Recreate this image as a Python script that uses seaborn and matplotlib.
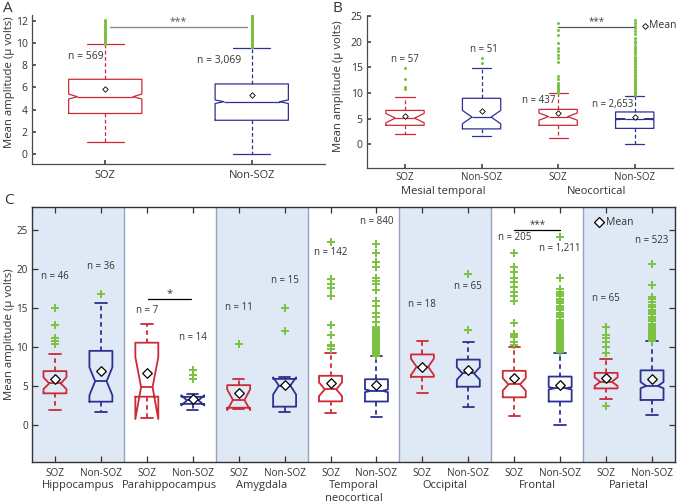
import numpy as np
import matplotlib
matplotlib.use("Agg")
import matplotlib.pyplot as plt
import seaborn as sns

# ---------------- Data ----------------
# Panel A
a_labels = ["SOZ", "Non-SOZ"]
a_n = ["n = 569", "n = 3,069"]
a_q1 = [3.65, 3.04]
a_med = [5.16, 4.71]
a_q3 = [6.73, 6.31]
a_lo = [1.10, 0.00]
a_hi = [9.88, 9.58]
a_mean = [5.83, 5.35]
a_cilo = [4.95, 4.55]
a_cihi = [5.40, 4.87]
a_fl_soz = [9.95, 10.02, 10.1, 10.19, 10.26, 10.33, 10.42, 10.5, 10.57, 10.66, 10.74, 10.81,
            10.9, 10.99, 11.06, 11.15, 11.24, 11.36, 11.45, 11.54, 11.66, 11.75, 11.86, 11.95, 12.06]
a_fl_non = [9.62, 9.68, 9.77, 9.84, 9.91, 10.0, 10.07, 10.16, 10.25, 10.31, 10.4, 10.47, 10.56,
            10.63, 10.72, 10.81, 10.88, 10.95, 11.04, 11.13, 11.2, 11.27, 11.36, 11.45, 11.52,
            11.6, 11.69, 11.76, 11.83, 11.92, 12.0, 12.09, 12.16, 12.23, 12.32, 12.4, 12.48]

# Panel B
b_labels = ["SOZ", "Non-SOZ", "SOZ", "Non-SOZ"]
b_groups = ["Mesial temporal", "Neocortical"]
b_n = ["n = 57", "n = 51", "n = 437", "n = 2,653"]
b_q1 = [3.7, 3.0, 3.7, 3.1]
b_med = [5.1, 5.3, 5.4, 4.9]
b_q3 = [6.6, 8.96, 6.8, 6.3]
b_lo = [1.95, 1.6, 1.2, 0.0]
b_hi = [9.15, 14.9, 9.9, 9.5]
b_mean = [5.6, 6.4, 6.0, 5.3]
b_cilo = [4.2, 4.0, 4.7, 4.8]
b_cihi = [6.0, 6.6, 6.1, 5.0]
b_fl1 = [10.7, 11.1, 12.7, 14.9]
b_fl2 = [15.8, 16.8]
b_fl3 = [10.0, 10.2, 10.4, 10.6, 10.8, 11.0, 11.2, 11.4, 11.6, 11.9, 12.7, 13.3, 16.1, 16.8,
         17.4, 18.1, 18.7, 19.7, 21.3, 22.3, 23.6]
b_fl4 = [9.6, 9.75, 9.9, 10.05, 10.2, 10.35, 10.5, 10.7, 10.9, 11.1, 11.3, 11.5, 11.7, 11.9,
         12.1, 12.3, 12.55, 12.8, 13.05, 13.3, 13.55, 13.8, 14.1, 14.4, 14.7, 15.0, 15.3, 15.6,
         15.9, 16.2, 16.5, 16.8, 17.1, 17.5, 17.9, 18.3, 18.7, 19.2, 19.7, 20.2, 20.8, 21.4,
         22.0, 22.6, 23.1, 23.6, 24.2]

# Panel C
c_groups = ["Hippocampus", "Parahippocampus", "Amygdala", "Temporal\nneocortical",
            "Occipital", "Frontal", "Parietal"]
c_labels = ["SOZ", "Non-SOZ"] * 7
c_n = ["n = 46", "n = 36", "n = 7", "n = 14", "n = 11", "n = 15", "n = 142", "n = 840",
       "n = 18", "n = 65", "n = 205", "n = 1,211", "n = 65", "n = 523"]
c_n_y = [19.1, 20.3, 14.7, 11.2, 15.1, 18.5, 22.1, 26.05, 15.45, 17.8, 24.1, 22.7, 16.2, 23.7]
c_q1 = [4.05, 2.98, 3.62, 2.70, 2.20, 2.34, 3.02, 3.00, 6.17, 4.90, 3.54, 3.00, 4.68, 3.20]
c_med = [5.32, 5.60, 4.85, 3.15, 3.20, 5.05, 4.56, 4.37, 7.45, 6.60, 5.20, 4.70, 5.53, 5.00]
c_q3 = [6.90, 9.50, 10.55, 3.60, 5.10, 5.90, 6.30, 5.86, 9.04, 8.38, 6.94, 6.20, 6.68, 7.00]
c_lo = [1.91, 1.60, 0.90, 1.85, 2.00, 1.70, 1.51, 1.07, 4.10, 2.26, 1.14, 0.00, 3.27, 1.30]
c_hi = [9.15, 15.6, 13.0, 3.92, 5.84, 6.20, 9.24, 8.80, 10.73, 10.60, 10.0, 9.24, 8.43, 10.8]
c_mean = [5.92, 6.90, 6.68, 3.30, 4.10, 5.16, 5.44, 5.10, 7.45, 7.00, 5.96, 5.10, 6.04, 5.88]
c_cilo = [4.60, 3.80, 0.75, 2.50, 1.90, 3.90, 3.70, 4.20, 6.40, 5.80, 4.40, 4.55, 5.00, 4.70]
c_cihi = [6.10, 7.40, 8.70, 3.80, 4.55, 6.10, 5.45, 4.55, 8.50, 7.40, 6.00, 4.85, 6.10, 5.50]
c_fl = [
    [10.4, 10.8, 11.2, 12.85, 15.0],
    [16.8],
    [],
    [5.9, 6.4, 7.0],
    [10.4],
    [12.0, 15.0],
    [9.8, 10.1, 10.3, 11.6, 12.8, 16.5, 17.6, 18.1, 18.7, 23.5],
    [8.9, 9.05, 9.2, 9.35, 9.5, 9.65, 9.8, 9.95, 10.1, 10.25, 10.4, 10.55, 10.7, 10.85, 11.0,
     11.2, 11.4, 11.6, 11.8, 12.0, 12.3, 12.6, 13.2, 13.8, 14.3, 15.2, 15.9, 17.3, 18.1, 18.5,
     18.8, 20.2, 20.9, 22.0, 23.2],
    [],
    [12.2, 19.3],
    [10.2, 10.6, 11.3, 11.5, 11.7, 13.1, 15.9, 16.5, 17.1, 17.7, 18.3, 18.9, 19.6, 20.3, 22.1],
    [9.35, 9.5, 9.65, 9.8, 9.95, 10.1, 10.25, 10.4, 10.55, 10.7, 10.85, 11.0, 11.2, 11.4, 11.6,
     11.8, 12.0, 12.2, 12.45, 12.7, 12.95, 13.2, 13.5, 13.8, 14.1, 14.4, 14.7, 15.0, 15.3, 15.6,
     15.9, 16.2, 16.5, 16.8, 17.1, 17.4, 18.8, 24.1],
    [2.4, 9.2, 10.0, 10.6, 11.1, 11.5, 12.5],
    [10.8, 10.95, 11.1, 11.25, 11.4, 11.55, 11.7, 11.85, 12.0, 12.2, 12.4, 12.6, 12.8, 13.0,
     13.3, 13.6, 13.9, 14.2, 14.5, 14.8, 15.1, 15.4, 15.8, 16.1, 16.4, 17.9, 20.6],
]

# ---------------- Style ----------------
sns.set_theme(style="ticks")
plt.rcParams['font.family'] = ['Open Sans', 'DejaVu Sans']
plt.rcParams.update({
    'xtick.direction': 'in', 'ytick.direction': 'in',
    'axes.edgecolor': '#4a4a4a', 'xtick.color': '#4a4a4a', 'ytick.color': '#4a4a4a',
    'xtick.labelcolor': '#333333', 'ytick.labelcolor': '#333333',
    'text.color': '#333333', 'axes.labelcolor': '#333333', 'axes.linewidth': 0.9,
})

RED = '#cc2a36'
BLUE = '#2e3192'
GREEN = '#7cc142'
SHADE = '#dfe8f5'
DIVIDER = '#93a3c0'

fig = plt.figure(figsize=(6.8, 5.03), dpi=100)
axA = fig.add_axes([32 / 680, 1 - 164 / 503, 293 / 680, 149 / 503])
axB = fig.add_axes([366.7 / 680, 1 - 168.3 / 503, 306.3 / 680, 152.3 / 503])
axC = fig.add_axes([32 / 680, 1 - 462.3 / 503, 643 / 680, 255.6 / 503])


def draw_boxes(ax, pos, q1, med, q3, lo, hi, cilo, cihi, fliers, colors, lw, fprops, dash,
               notch_scale=None):
    for i, p in enumerate(pos):
        st = dict(q1=q1[i], med=med[i], q3=q3[i], whislo=lo[i], whishi=hi[i],
                  cilo=cilo[i], cihi=cihi[i], fliers=np.asarray(fliers[i], float))
        c = colors[i]
        fp = dict(fprops)
        fp.setdefault('markeredgecolor', GREEN)
        out = ax.bxp([st], positions=[p], widths=0.5, shownotches=True, showfliers=True,
                     manage_ticks=False,
                     boxprops=dict(color=c, lw=lw), medianprops=dict(color=c, lw=lw),
                     whiskerprops=dict(color=c, lw=lw, linestyle=dash),
                     capprops=dict(color=c, lw=lw), flierprops=fp, zorder=3)
        if notch_scale is not None:
            bx = out['boxes'][0]
            xd = np.array(bx.get_xdata(), float)
            xd[3] = p + notch_scale
            xd[8] = p - notch_scale
            bx.set_xdata(xd)
            out['medians'][0].set_xdata([p - notch_scale, p + notch_scale])


def draw_means(ax, pos, means, s, lw):
    sns.scatterplot(x=pos, y=means, marker='D', s=s, color='white', edgecolor='black',
                    linewidth=lw, ax=ax, zorder=6, legend=False)


# ---------------- Panel A ----------------
posA = [1, 2]
draw_boxes(axA, posA, a_q1, a_med, a_q3, a_lo, a_hi, a_cilo, a_cihi, [a_fl_soz, a_fl_non],
           [RED, BLUE], 0.9,
           dict(marker='o', markersize=2.2, markerfacecolor=GREEN, markeredgecolor='none',
                linestyle='none'), (0, (3, 2)), notch_scale=0.19)
draw_means(axA, posA, a_mean, 8, 0.6)
axA.set_xlim(0.5, 2.5)
axA.set_ylim(-0.9, 12.52)
axA.set_xticks(posA, a_labels, fontsize=8)
axA.set_yticks(range(0, 13, 2))
axA.tick_params(axis='y', labelsize=7.5, length=3, pad=3)
axA.tick_params(axis='x', length=3, pad=4.5)
axA.spines[['top', 'right']].set_visible(False)
axA.set_ylabel("Mean amplitude (μ volts)", fontsize=8.2)
axA.yaxis.set_label_coords(-0.058, 0.55)
axA.set_xlabel("")
axA.text(0.99, 8.8, a_n[0], ha='right', va='center', fontsize=7.5)
axA.text(1.93, 8.45, a_n[1], ha='right', va='center', fontsize=7.5)
axA.plot([1.03, 1.97], [11.45, 11.45], color='#888888', lw=1)
axA.text(1.5, 11.45, "***", ha='center', va='bottom', fontsize=7.5, color='#555555')
fig.text(3 / 680, 1 - 1 / 503, "A", fontsize=11, va='top', ha='left')

# ---------------- Panel B ----------------
posB = [1, 2, 3, 4]
draw_boxes(axB, posB, b_q1, b_med, b_q3, b_lo, b_hi, b_cilo, b_cihi,
           [b_fl1, b_fl2, b_fl3, b_fl4], [RED, BLUE, RED, BLUE], 0.9,
           dict(marker='o', markersize=2.2, markerfacecolor=GREEN, markeredgecolor='none',
                linestyle='none'), (0, (3, 2)))
draw_means(axB, posB, b_mean, 8, 0.6)
axB.set_xlim(0.5, 4.5)
axB.set_ylim(-4.68, 25.0)
axB.set_xticks(posB, b_labels, fontsize=7)
axB.set_yticks(range(0, 26, 5))
axB.tick_params(axis='y', labelsize=7.5, length=3, pad=3)
axB.tick_params(axis='x', length=3, pad=3)
axB.spines[['top', 'right']].set_visible(False)
axB.set_ylabel("Mean amplitude (μ volts)", fontsize=8.2)
axB.yaxis.set_label_coords(-0.074, 0.54)
axB.set_xlabel("")
for gx, g in zip([1.5, 3.5], b_groups):
    axB.annotate(g, xy=(gx, 0), xycoords=('data', 'axes fraction'), xytext=(0, -12.5),
                 textcoords='offset points', ha='center', va='top', fontsize=8)
axB.text(1.0, 16.6, b_n[0], ha='center', va='center', fontsize=7)
axB.text(2.03, 18.4, b_n[1], ha='center', va='center', fontsize=7)
axB.text(2.96, 8.6, b_n[2], ha='right', va='center', fontsize=7)
axB.text(3.98, 7.8, b_n[3], ha='right', va='center', fontsize=7)
axB.plot([3.0, 4.0], [22.9, 22.9], color='#555555', lw=0.9)
axB.text(3.5, 22.9, "***", ha='center', va='bottom', fontsize=7, color='#444444')
axB.plot([4.13], [23.1], marker='D', ms=3, mfc='white', mec='black', mew=0.6,
         linestyle='none', clip_on=False)
axB.text(4.19, 23.1, "Mean", ha='left', va='center', fontsize=7.5)
fig.text(333 / 680, 1 - 1 / 503, "B", fontsize=11, va='top', ha='left')

# ---------------- Panel C ----------------
posC = list(range(1, 15))
for k in range(0, 7, 2):
    axC.axvspan(0.5 + 2 * k, 2.5 + 2 * k, color=SHADE, zorder=0, lw=0)
for b in range(1, 7):
    axC.axvline(0.5 + 2 * b, color=DIVIDER, lw=1.0, zorder=1)
draw_boxes(axC, posC, c_q1, c_med, c_q3, c_lo, c_hi, c_cilo, c_cihi, c_fl,
           [RED, BLUE] * 7, 1.3,
           dict(marker='+', markersize=6, markeredgewidth=1.4, markeredgecolor=GREEN,
                linestyle='none'), (0, (2.5, 2)))
draw_means(axC, posC, c_mean, 24, 0.9)
axC.set_xlim(0.5, 14.5)
axC.set_ylim(-4.8, 28.0)
axC.set_xticks(posC, c_labels, fontsize=7.2)
axC.set_yticks(range(0, 26, 5))
axC.tick_params(axis='both', top=True, right=True, labeltop=False, labelright=False,
                length=4, width=0.9, color='#333333')
axC.tick_params(axis='y', labelsize=7.2, pad=3)
axC.tick_params(axis='x', pad=4)
for sp in axC.spines.values():
    sp.set_color('#333333')
    sp.set_linewidth(1.0)
axC.set_ylabel("Mean amplitude (μ volts)", fontsize=8.2)
axC.yaxis.set_label_coords(-0.027, 0.5)
axC.set_xlabel("")
for gi, g in enumerate(c_groups):
    axC.annotate(g, xy=(1.5 + 2 * gi, 0), xycoords=('data', 'axes fraction'),
                 xytext=(0, -13), textcoords='offset points', ha='center', va='top',
                 fontsize=8, linespacing=1.2)
for p, t, y in zip(posC, c_n, c_n_y):
    axC.text(p, y, t, ha='center', va='center', fontsize=7)
axC.plot([3.03, 3.97], [16.1, 16.1], color='black', lw=0.9, zorder=4)
axC.text(3.5, 16.2, "*", ha='center', va='bottom', fontsize=8)
axC.plot([11.0, 12.0], [25.0, 25.0], color='black', lw=0.9, zorder=4)
axC.text(11.5, 25.0, "***", ha='center', va='bottom', fontsize=7)
axC.plot([12.85], [26.0], marker='D', ms=5, mfc='white', mec='black', mew=0.9,
         linestyle='none', zorder=6)
axC.text(13.0, 26.0, "Mean", ha='left', va='center', fontsize=7.5)
fig.text(4 / 680, 1 - 193 / 503, "C", fontsize=11, va='top', ha='left')

fig.savefig("out.png", dpi=100)
